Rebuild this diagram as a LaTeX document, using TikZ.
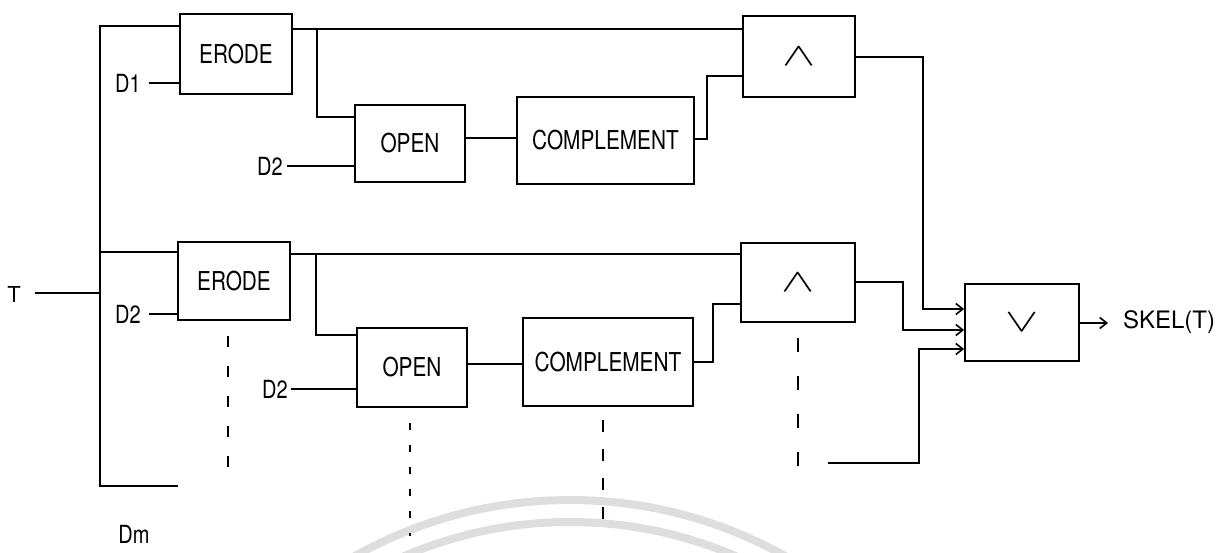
\documentclass[tikz,border=0pt]{standalone}
\usepackage{fontspec}
\setmainfont{TeX Gyre Heros}
\usetikzlibrary{arrows.meta,calc}
% condensed lettering
\newcommand\cond[1]{\scalebox{0.8}[1]{#1}}
% wide, flat logic signs
\newcommand\gate[1]{\scalebox{2.0}[1.3]{$#1$}}

\begin{document}
\begin{tikzpicture}[x=1pt,y=-1pt,line width=1.8pt,line join=miter,
  block/.style={draw,rectangle,inner sep=0pt,font=\fontsize{26}{26}\selectfont},
  lbl/.style={inner sep=0pt,font=\fontsize{25}{25}\selectfont},
  feed/.style={-{Straight Barb[length=7pt,width=11pt,line width=1.6pt]}},
  trail/.style={line width=1.8pt},
  halo/.style={line width=8pt,color=black!13}]

\useasboundingbox (0,0) rectangle (1223,552);

% faint stamp in the lower part of the sheet
\begin{scope}
  \clip (0,0) rectangle (1223,552);
  \draw[halo] (570,940) circle[radius=440];
  \draw[halo] (570,940) circle[radius=418];
\end{scope}

% ---------- blocks ----------
\node[block,minimum width=112pt,minimum height=80pt] (e1) at (236,54)    {\cond{ERODE}};
\node[block,minimum width=110pt,minimum height=77pt] (o1) at (410,143.5) {\cond{OPEN}};
\node[block,minimum width=177pt,minimum height=87pt] (c1) at (605.5,140.5) {\cond{COMPLEMENT}};
\node[block,minimum width=112pt,minimum height=81pt] (a1) at (799,56.5)  {\gate{\wedge}};

\node[block,minimum width=112pt,minimum height=78pt] (e2) at (234,281)   {\cond{ERODE}};
\node[block,minimum width=110pt,minimum height=79pt] (o2) at (412,367.5) {\cond{OPEN}};
\node[block,minimum width=170pt,minimum height=88pt] (c2) at (608,362)   {\cond{COMPLEMENT}};
\node[block,minimum width=114pt,minimum height=79pt] (a2) at (798,282.5) {\gate{\wedge}};

\node[block,minimum width=114pt,minimum height=77pt] (join) at (1022,322.5) {\gate{\vee}};

% ---------- labels ----------
\node[lbl,font=\fontsize{22}{22}\selectfont] (tin) at (14,294) {T};
\node[lbl] (d1)  at (128,83)  {\cond{D1}};
\node[lbl] (d1b) at (128,314) {\cond{D2}};
\node[lbl] (d2a) at (270,166) {\cond{D2}};
\node[lbl] (d2b) at (275,389) {\cond{D2}};
\node[lbl] (dm)  at (134,534) {\cond{Dm}};
\node[lbl,font=\fontsize{24}{24}\selectfont] (out) at (1169,322) {SKEL(T)};

% ---------- input bus ----------
\coordinate (bustop) at (100,26);
\coordinate (busmid) at (100,252);
\coordinate (tjoin)  at (100,293);
\coordinate (busend) at (100,486);
\coordinate (dmend)  at (178,486);
\draw (e1.west |- bustop) -- (bustop) -- (busend) -- (dmend);
\draw (busmid) -- (e2.west |- busmid);
\draw[shorten <=13pt] (tin.east |- tjoin) -- (tjoin);

% ---------- first stage ----------
\coordinate (r1)  at (0,29);
\coordinate (k1)  at (317,29);
\coordinate (k1b) at (317,117);
\coordinate (m1)  at (0,138);
\coordinate (n1)  at (707,139);
\coordinate (n1b) at (707,76);
\coordinate (p1)  at (923,57);
\coordinate (p1b) at (923,309);
\draw[shorten <=7pt] (d1.east) -- (e1.west |- d1.east);
\draw (e1.east |- r1) -- (a1.west |- r1);
\draw (k1) -- (k1b) -- (o1.west |- k1b);
\draw[shorten <=3pt] (d2a.east) -- (o1.west |- d2a.east);
\draw (o1.east |- m1) -- (c1.west |- m1);
\draw (c1.east |- n1) -- (n1) -- (n1b) -- (a1.west |- n1b);
\draw[feed] (a1.east |- p1) -- (p1) -- (p1b) -- (join.west |- p1b);

% ---------- second stage ----------
\coordinate (r2)  at (0,254);
\coordinate (k2)  at (316,254);
\coordinate (k2b) at (316,335);
\coordinate (m2)  at (0,364);
\coordinate (n2)  at (713,362);
\coordinate (n2b) at (713,304);
\coordinate (p2)  at (903,282);
\coordinate (p2b) at (903,330);
\draw[shorten <=7pt] (d1b.east) -- (e2.west |- d1b.east);
\draw (e2.east |- r2) -- (a2.west |- r2);
\draw (k2) -- (k2b) -- (o2.west |- k2b);
\draw[shorten <=2pt] (d2b.east) -- (o2.west |- d2b.east);
\draw (o2.east |- m2) -- (c2.west |- m2);
\draw (c2.east |- n2) -- (n2) -- (n2b) -- (a2.west |- n2b);
\draw[feed] (a2.east |- p2) -- (p2) -- (p2b) -- (join.west |- p2b);

% ---------- last stage input ----------
\coordinate (q)  at (828,463);
\coordinate (qb) at (919,463);
\coordinate (qc) at (919,349);
\draw[feed] (q) -- (qb) -- (qc) -- (join.west |- qc);

% ---------- output ----------
\coordinate (tip) at (1108,323);
\draw[feed] (join.east |- tip) -- (tip);

% ---------- further stages, indicated ----------
\coordinate (v1a) at (228,336); \coordinate (v1b) at (228,470);
\coordinate (v2a) at (410,423); \coordinate (v2b) at (410,536);
\coordinate (v3a) at (603,420); \coordinate (v3b) at (603,523);
\coordinate (v4a) at (798,338); \coordinate (v4b) at (798,472);
\draw[trail,dash pattern=on 11pt off 19pt] (v1a) -- (v1b);
\draw[trail,dash pattern=on 7pt off 15pt]  (v2a) -- (v2b);
\draw[trail,dash pattern=on 12pt off 17pt] (v3a) -- (v3b);
\draw[trail,dash pattern=on 14pt off 24pt] (v4a) -- (v4b);

\end{tikzpicture}
\end{document}
